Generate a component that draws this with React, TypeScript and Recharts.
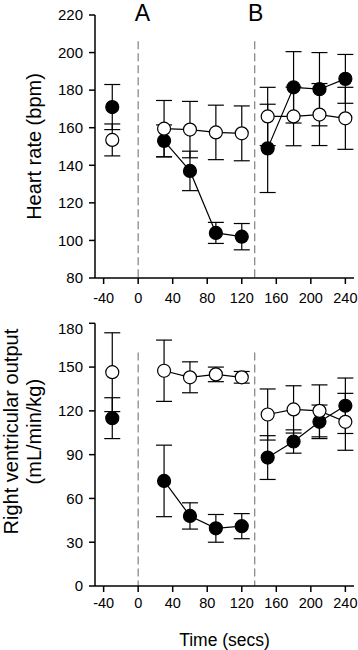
import { ComposedChart, Line, XAxis, YAxis, ErrorBar, ReferenceLine, ReferenceDot } from 'recharts';

const timeBaseline = [-30];
const timePhaseA = [30, 60, 90, 120];
const timePhaseB = [150, 180, 210, 240];

// heart rate (bpm): baseline, phase A, phase B
const hrFilled = [171, 153, 137, 104, 102, 149, 181.5, 180.5, 186];
const hrFilledErr = [12, 8.5, 10.5, 5.6, 7, 23.5, 19, 19.5, 13];
const hrOpen = [153.5, 159.5, 159, 157.5, 157, 166, 166, 167, 165];
const hrOpenErr = [8.5, 15, 15, 14.5, 14.6, 15.5, 15.6, 16.5, 16.5];

// right ventricular output (mL/min/kg)
const rvoFilled = [115, 72, 48, 39.5, 41, 88, 99, 112.5, 123.5];
const rvoFilledErr = [14, 24.5, 9, 9.5, 8.6, 15, 8, 11.5, 19];
const rvoOpen = [146.5, 147.5, 143, 145, 143, 117.5, 121, 120, 112.5];
const rvoOpenErr = [27, 21, 10.6, 5, 4, 17.5, 16.2, 17.8, 19.5];

const xTicks = [-40, 0, 40, 80, 120, 160, 200, 240];
const hrTicks = [80, 100, 120, 140, 160, 180, 200, 220];
const rvoTicks = [0, 30, 60, 90, 120, 150, 180];

const FONT = '"Liberation Sans", Arial, sans-serif';

const segments = [timeBaseline, timePhaseA, timePhaseB];
function split(values: number[], errs: number[]) {
    let i = 0;
    return segments.map((ts) => ts.map((t) => {
        const p = { t, v: values[i], e: errs[i] };
        i++;
        return p;
    }));
}

const YTitle = ({ viewBox, lines, shift = 0 }: any) => {
    const cy = viewBox.y + viewBox.height / 2 + shift;
    return (
        <g>
            {lines.map((l: any, i: number) => (
                <text key={i} x={l.x} y={cy} transform={`rotate(-90 ${l.x} ${cy})`} textAnchor="middle"
                    dominantBaseline="central" fontSize={20} fontFamily={FONT} fill="#000">{l.text}</text>
            ))}
        </g>
    );
};

const XTitle = ({ viewBox }: any) => (
    <text x={viewBox.x + viewBox.width / 2} y={viewBox.y + 54} textAnchor="middle" dominantBaseline="central"
        fontSize={17.5} fontFamily={FONT} fill="#000">Time (secs)</text>
);

const PhaseText = ({ viewBox, text }: any) => {
    const cx = viewBox.x + (viewBox.width || 0) / 2;
    const cy = viewBox.y + (viewBox.height || 0) / 2;
    return (
        <text x={cx} y={cy} textAnchor="middle" dominantBaseline="central" fontSize={23} fontFamily={FONT}
            fill="#000">{text}</text>
    );
};

const Panel = ({ filled, filledErr, open, openErr, domain, ticks, height, top, xHeight, tickMargin,
    dashTop, titleLines, titleShift, phaseLabels, xTitle }: any) => {
    const filledSegs = split(filled, filledErr);
    const openSegs = split(open, openErr);
    const series = [
        ...filledSegs.map((d) => ({ d, fill: '#000' })),
        ...openSegs.map((d) => ({ d, fill: '#fff' })),
    ];
    return (
        <ComposedChart width={358} height={height} margin={{ top, right: 4, bottom: 0, left: 0 }}>
            <XAxis type="number" dataKey="t" domain={[-50, 250]} ticks={xTicks} height={xHeight}
                tickSize={6} tickMargin={tickMargin} stroke="#000" strokeWidth={1.5}
                tick={{ fill: '#000', fontSize: 14.5, fontFamily: FONT }}
                label={xTitle ? <XTitle /> : undefined} />
            <YAxis type="number" domain={domain} ticks={ticks} width={95} tickSize={6} tickMargin={6}
                stroke="#000" strokeWidth={1.5} tick={{ fill: '#000', fontSize: 15, fontFamily: FONT }}
                label={<YTitle lines={titleLines} shift={titleShift} />} />
            <ReferenceLine segment={[{ x: 0, y: dashTop }, { x: 0, y: domain[0] }]} stroke="#808080"
                strokeWidth={1.2} strokeDasharray="8 4" />
            <ReferenceLine segment={[{ x: 135, y: dashTop }, { x: 135, y: domain[0] }]} stroke="#808080"
                strokeWidth={1.2} strokeDasharray="8 4" />
            {series.map((s, i) => (
                <Line key={i} data={s.d} dataKey="v" stroke="#000" strokeWidth={1.2} isAnimationActive={false}
                    dot={{ r: 6.5, fill: s.fill, stroke: '#000', strokeWidth: 1.2 }} activeDot={false}>
                    <ErrorBar dataKey="e" width={8} stroke="#000" strokeWidth={1.2} direction="y" />
                </Line>
            ))}
            {phaseLabels && phaseLabels.map((p: any) => (
                <ReferenceDot key={p.text} x={p.x} y={p.y} r={0} fill="none" stroke="none" ifOverflow="visible"
                    label={<PhaseText text={p.text} />} />
            ))}
        </ComposedChart>
    );
};

export default function App() {
    return (
        <div style={{ position: 'absolute', left: 0, top: 0, width: 358, height: 650, background: '#fff' }}>
            <div style={{ position: 'absolute', left: 0, top: 0 }}>
                <Panel filled={hrFilled} filledErr={hrFilledErr} open={hrOpen} openErr={hrOpenErr}
                    domain={[80, 220]} ticks={hrTicks} height={320} top={15} xHeight={42} tickMargin={9}
                    dashTop={206} titleLines={[{ text: 'Heart rate (bpm)', x: 34 }]} titleShift={0}
                    phaseLabels={[{ text: 'A', x: 5, y: 221.3 }, { text: 'B', x: 136, y: 221.3 }]} />
            </div>
            <div style={{ position: 'absolute', left: 0, top: 320 }}>
                <Panel filled={rvoFilled} filledErr={rvoFilledErr} open={rvoOpen} openErr={rvoOpenErr}
                    domain={[0, 180]} ticks={rvoTicks} height={330} top={3.3} xHeight={64} tickMargin={6}
                    dashTop={160} titleShift={-23} xTitle
                    titleLines={[{ text: 'Right ventricular output', x: 11 }, { text: '(mL/min/kg)', x: 34 }]} />
            </div>
        </div>
    );
}
